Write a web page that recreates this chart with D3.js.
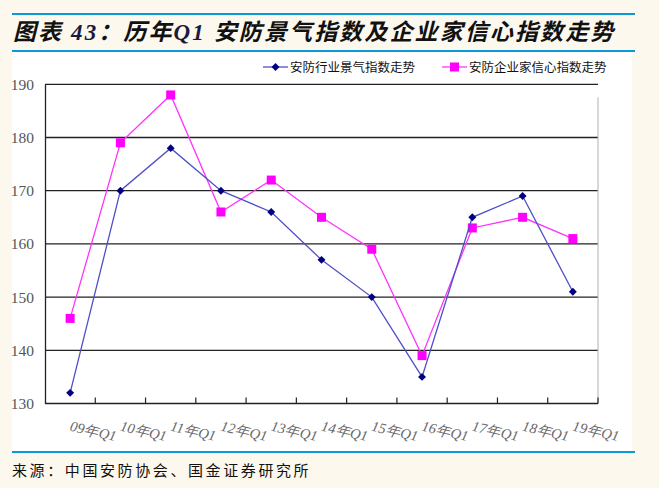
<!DOCTYPE html>
<html>
<head>
<meta charset="utf-8">
<script src="https://cdn.jsdelivr.net/npm/d3@7"></script>
<style>
  html, body { margin: 0; padding: 0; background: #fcf8ee; }
  svg { display: block; }
</style>
</head>
<body>
<div id="main"></div>
<script>
var ctx = {
    w: 659,
    h: 488,
    left: 45, right: 598, top: 84.3, bottom: 403.5
};

// data
var quarters = ["09年Q1", "10年Q1", "11年Q1", "12年Q1", "13年Q1", "14年Q1",
                "15年Q1", "16年Q1", "17年Q1", "18年Q1", "19年Q1"];
var industryIndex = [132, 170, 178, 170, 166, 157, 150, 135, 165, 169, 151];
var confidenceIndex = [146, 179, 188, 166, 172, 165, 159, 139, 163, 165, 161];
var yTicks = [130, 140, 150, 160, 170, 180, 190];
var seriesNames = ["安防行业景气指数走势", "安防企业家信心指数走势"];

var drawFrame = function(svg) {
    // white chart panel
    svg.append("rect")
        .attr("x", 12).attr("y", 52)
        .attr("width", 620).attr("height", 400)
        .style("fill", "#fff");
    // blue rules
    [14, 51, 452].forEach(function(y) {
        svg.append("line")
            .attr("x1", 12).attr("x2", 635)
            .attr("y1", y).attr("y2", y)
            .style("stroke", "#0a9ad8")
            .style("stroke-width", 2.2);
    });
    // title
    var title = svg.append("text")
        .attr("x", 13).attr("y", 40)
        .style("font-family", "'Liberation Serif', 'Noto Sans CJK SC', serif")
        .style("font-size", "23px")
        .style("font-weight", "bold")
        .style("font-style", "italic")
        .style("letter-spacing", "2.1px")
        .style("fill", "#111");
    title.append("tspan").text("图表 ");
    title.append("tspan").style("fill", "#1a1a40").text("43");
    title.append("tspan").text("：历年");
    title.append("tspan").style("fill", "#1a1a40").text("Q1");
    title.append("tspan").text(" 安防景气指数及企业家信心指数走势");
    // footer
    svg.append("text")
        .attr("x", 12).attr("y", 476)
        .style("font-family", "'Noto Sans CJK SC', sans-serif")
        .style("font-size", "15px")
        .style("letter-spacing", "2.6px")
        .style("fill", "#111")
        .text("来源：中国安防协会、国金证券研究所");
};

var drawChart = function(svg) {
    ctx.xScale = d3.scaleBand().domain(quarters)
        .range([ctx.left, ctx.right]);
    ctx.yScale = d3.scaleLinear().domain([130, 190])
        .range([ctx.bottom, ctx.top]);
    var g = svg.append("g");

    // horizontal grid
    g.selectAll(".grid")
        .data(yTicks.slice(1))
        .enter().append("line")
        .attr("x1", ctx.left).attr("x2", ctx.right)
        .attr("y1", function(d) { return ctx.yScale(d); })
        .attr("y2", function(d) { return ctx.yScale(d); })
        .style("stroke", "#222")
        .style("stroke-width", 1.3);
    // right border
    g.append("line")
        .attr("x1", ctx.right).attr("x2", ctx.right)
        .attr("y1", ctx.top + 13).attr("y2", ctx.bottom)
        .style("stroke", "#b0b0b0");

    // y axis
    var yAxis = g.append("g")
        .attr("transform", "translate(" + ctx.left + ",0)")
        .call(d3.axisLeft(ctx.yScale).tickValues(yTicks).tickSize(0).tickPadding(11));
    yAxis.select(".domain").style("stroke", "#222").style("stroke-width", 1.3);
    yAxis.selectAll("text")
        .style("font-family", "'Liberation Serif', serif")
        .style("font-size", "15.5px")
        .style("fill", "#555");

    // x axis: ticks at band edges, pointing up
    var xAxis = g.append("g")
        .attr("transform", "translate(0," + ctx.bottom + ")");
    xAxis.append("line")
        .attr("x1", ctx.left).attr("x2", ctx.right)
        .style("stroke", "#222").style("stroke-width", 1.5);
    xAxis.selectAll(".tick")
        .data(quarters.slice(1).concat(["end"]))
        .enter().append("line")
        .attr("x1", function(d) { return d === "end" ? ctx.right : ctx.xScale(d); })
        .attr("x2", function(d) { return d === "end" ? ctx.right : ctx.xScale(d); })
        .attr("y1", 0).attr("y2", -6)
        .style("stroke", "#222").style("stroke-width", 1.2);
    xAxis.selectAll(".lbl")
        .data(quarters)
        .enter().append("text")
        .attr("transform", function(d) {
            return "translate(" + (ctx.xScale(d) + ctx.xScale.bandwidth() / 2 - 1) + ",27) rotate(13)";
        })
        .style("font-family", "'Liberation Serif', serif")
        .style("font-style", "italic")
        .style("font-size", "14.5px")
        .style("fill", "#666")
        .text(function(d) { return d; });

    var cx = function(i) { return ctx.xScale(quarters[i]) + ctx.xScale.bandwidth() / 2; };
    var line = d3.line()
        .x(function(d, i) { return cx(i); })
        .y(function(d) { return ctx.yScale(d); });

    // confidence series (magenta squares)
    g.append("path")
        .datum(confidenceIndex)
        .attr("d", line)
        .style("fill", "none")
        .style("stroke", "#ff33ff")
        .style("stroke-width", 1.3);
    g.selectAll(".sq")
        .data(confidenceIndex)
        .enter().append("rect")
        .attr("x", function(d, i) { return cx(i) - 4.5; })
        .attr("y", function(d) { return ctx.yScale(d) - 4.5; })
        .attr("width", 9).attr("height", 9)
        .style("fill", "#ff00ff");

    // industry series (blue diamonds)
    var diamond = d3.symbol().type(d3.symbolDiamond2).size(40);
    g.append("path")
        .datum(industryIndex)
        .attr("d", line)
        .style("fill", "none")
        .style("stroke", "#4f4fc8")
        .style("stroke-width", 1.3);
    g.selectAll(".dm")
        .data(industryIndex)
        .enter().append("path")
        .attr("d", diamond)
        .attr("transform", function(d, i) { return "translate(" + cx(i) + "," + ctx.yScale(d) + ")"; })
        .style("fill", "#000080");

    // legend
    var legend = g.append("g");
    var legendX = [263, 442];
    seriesNames.forEach(function(name, k) {
        var x0 = legendX[k];
        legend.append("line")
            .attr("x1", x0).attr("x2", x0 + 25)
            .attr("y1", 67).attr("y2", 67)
            .style("stroke", k === 0 ? "#4f4fc8" : "#ff33ff")
            .style("stroke-width", 1.3);
        if (k === 0) {
            legend.append("path")
                .attr("d", diamond)
                .attr("transform", "translate(" + (x0 + 12.5) + ",67)")
                .style("fill", "#000080");
        } else {
            legend.append("rect")
                .attr("x", x0 + 8).attr("y", 62.5)
                .attr("width", 9).attr("height", 9)
                .style("fill", "#ff00ff");
        }
        legend.append("text")
            .attr("x", x0 + 27).attr("y", 72)
            .style("font-family", "'Noto Sans CJK SC', sans-serif")
            .style("font-size", "12.5px")
            .style("fill", "#111")
            .text(name);
    });
};

var createViz = function() {
    var svg = d3.select("#main").append("svg")
        .attr("width", ctx.w)
        .attr("height", ctx.h);
    svg.append("rect")
        .attr("width", ctx.w).attr("height", ctx.h)
        .style("fill", "#fcf8ee");
    drawFrame(svg);
    drawChart(svg);
};

createViz();
</script>
</body>
</html>
